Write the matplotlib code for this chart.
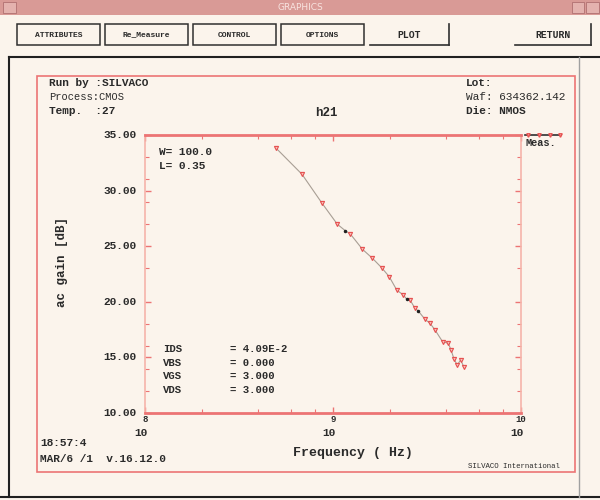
import numpy as np
import matplotlib
matplotlib.use("Agg")
import matplotlib.pyplot as plt
from matplotlib.patches import Rectangle
from matplotlib.lines import Line2D
from matplotlib.transforms import blended_transform_factory, ScaledTranslation

freq = [4.95e8, 6.84e8, 8.73e8, 1.054e9, 1.159e9, 1.239e9, 1.435e9, 1.622e9,
        1.816e9, 1.991e9, 2.183e9, 2.366e9, 2.466e9, 2.570e9, 2.729e9, 2.844e9,
        3.083e9, 3.281e9, 3.491e9, 3.828e9, 4.102e9, 4.246e9, 4.406e9, 4.581e9,
        4.775e9, 4.977e9]
gain = [33.86, 31.47, 28.88, 26.98, 26.41, 26.08, 24.72, 23.91,
        23.06, 22.26, 21.06, 20.61, 20.25, 20.16, 19.42, 19.17,
        18.43, 18.07, 17.46, 16.41, 16.27, 15.67, 14.83, 14.32,
        14.77, 14.11]
marked = [1, 1, 1, 1, 0, 1, 1, 1, 1, 1, 1, 1, 0, 1, 1, 0,
          1, 1, 1, 1, 1, 1, 1, 1, 1, 1]

y_major = [10, 15, 20, 25, 30, 35]
y_minor = [12, 14, 16, 18, 23, 27, 29, 31, 33]
x_major = [1e8, 1e9, 1e10]
x_minor = [2e8, 4e8, 6e8, 8e8, 2e9, 4e9, 6e9, 8e9]
x_exp = ["8", "9", "10"]

header_left = ["Run by :SILVACO", "Process:CMOS", "Temp.  :27"]
header_right = ["Lot:", "Waf: 634362.142", "Die: NMOS"]
bias_names = ["IDS", "VBS", "VGS", "VDS"]
bias_vals = ["= 4.09E-2", "= 0.000", "= 3.000", "= 3.000"]
buttons = ["ATTRIBUTES", "Re_Measure", "CONTROL", "OPTIONS", "PLOT", "RETURN"]

W, H = 600, 500
BG = "#fbf4ec"
RED = "#ec7474"
PINK = "#f6b4aa"
INK = "#2a2a2a"
MONO = "Liberation Mono"

fig = plt.figure(figsize=(6, 5), dpi=100)
fig.patch.set_facecolor(BG)


def fx(x):
    return x / W


def fy(y):
    return 1 - y / H


def box(x0, y0, x1, y1, **kw):
    fig.add_artist(Rectangle((fx(x0), fy(y1)), fx(x1) - fx(x0), fy(y0) - fy(y1),
                             transform=fig.transFigure, **kw))


def hline(x0, x1, y, **kw):
    fig.add_artist(Line2D([fx(x0), fx(x1)], [fy(y), fy(y)], transform=fig.transFigure, **kw))


def vline(x, y0, y1, **kw):
    fig.add_artist(Line2D([fx(x), fx(x)], [fy(y0), fy(y1)], transform=fig.transFigure, **kw))


def txt(x, y, s, **kw):
    kw.setdefault("family", MONO)
    kw.setdefault("fontweight", "bold")
    kw.setdefault("color", INK)
    fig.text(fx(x), fy(y), s, **kw)


# window title bar
box(0, 0, 600, 15, facecolor="#d99a96", edgecolor="none")
box(3, 2, 16, 13, facecolor="#e4b2ae", edgecolor="#b07070", lw=0.6)
box(572, 2, 584, 13, facecolor="#e4b2ae", edgecolor="#b07070", lw=0.6)
box(586, 2, 599, 13, facecolor="#e4b2ae", edgecolor="#b07070", lw=0.6)
txt(300, 8, "GRAPHICS", ha="center", va="center", fontsize=6.5,
    color="#f8e4e0", family="DejaVu Sans", fontweight="normal")

# button row
bx = [(17, 100), (105, 188), (193, 276), (281, 364), (370, 449), (515, 591)]
for (x0, x1), label in zip(bx, buttons):
    if label in ("PLOT", "RETURN"):
        hline(x0, x1, 45, color="#303030", lw=1.2)
        vline(x1, 24, 45, color="#303030", lw=1.2)
        fs = 7
    else:
        box(x0, 24, x1, 45, facecolor=BG, edgecolor="#303030", lw=1.1)
        fs = 5.8
    txt((x0 + x1) / 2, 35, label, ha="center", va="center", fontsize=fs)

# outer frame of the drawing area
hline(9, 600, 57, color="#202020", lw=1.5)
vline(9, 57, 497, color="#202020", lw=1.5)
hline(0, 600, 497, color="#202020", lw=1.5)
vline(579, 57, 497, color="#a0a0a0", lw=1.0)

# red page border
box(37, 76, 575, 472, facecolor="none", edgecolor=RED, lw=1.2)

for i, s in enumerate(header_left):
    txt(49, 83 + i * 14, s, va="center", fontsize=8 if i != 1 else 7.5,
        fontweight="bold" if i != 1 else "normal")
for i, s in enumerate(header_right):
    txt(466, 83 + i * 14, s, va="center", fontsize=8,
        fontweight="bold" if i != 1 else "normal")
txt(326, 113, "h21", ha="center", va="center", fontsize=9)
txt(40, 443, "18:57:4", va="center", fontsize=8)
txt(40, 459, "MAR/6 /1  v.16.12.0", va="center", fontsize=8)
txt(560, 466, "SILVACO International", ha="right", va="center", fontsize=5.3,
    fontweight="normal")

# plot area
ax = fig.add_axes([fx(145), fy(413), fx(521) - fx(145), fy(135) - fy(413)])
ax.set_facecolor(BG)
ax.set_xscale("log")
ax.set_xlim(1e8, 1e10)
ax.set_ylim(10, 35)

ax.plot(freq, gain, color="#a89e94", lw=0.8, zorder=2)
fm = [f for f, m in zip(freq, marked) if m]
gm = [g for g, m in zip(gain, marked) if m]
ax.plot(fm, gm, ls="none", marker="v", ms=3, mfc="#f6c0b8", mec="#e65050", mew=0.8, zorder=3)
fb = [f for f, m in zip(freq, marked) if not m]
gb = [g for g, m in zip(gain, marked) if not m]
ax.plot(fb, gb, ls="none", marker="o", ms=1.5, color="#202020", zorder=3)

for side in ("top", "bottom"):
    ax.spines[side].set_color(RED)
    ax.spines[side].set_linewidth(2)
for side in ("left", "right"):
    ax.spines[side].set_color(PINK)
    ax.spines[side].set_linewidth(1.2)

ax.set_xticks(x_major)
ax.set_xticks(x_minor, minor=True)
ax.set_yticks(y_major)
ax.set_yticks(y_minor, minor=True)
ax.tick_params(which="both", direction="in", top=True, right=True, colors=RED,
               labelleft=False, labelbottom=False)
ax.tick_params(which="major", length=4, width=1)
ax.tick_params(which="minor", length=3, width=0.8)

ytr = blended_transform_factory(ax.transAxes, ax.transData)
for v in y_major:
    ax.text(-0.022, v, f"{v:.2f}", transform=ytr, ha="right", va="center",
            family=MONO, fontsize=8, fontweight="bold", color=INK)

xtr = blended_transform_factory(ax.transData, ax.transAxes)
sh = ScaledTranslation(-4 / 100, 0, fig.dpi_scale_trans)
for v, e in zip(x_major, x_exp):
    ax.text(v, -0.025, e, transform=xtr, ha="center", va="center",
            family=MONO, fontsize=6.5, fontweight="bold", color=INK)
    ax.text(v, -0.072, "10", transform=xtr + sh, ha="center", va="center",
            family=MONO, fontsize=8, fontweight="bold", color=INK)

ax.text(0.038, 0.94, "W= 100.0", transform=ax.transAxes, va="center",
        family=MONO, fontsize=8, fontweight="bold", color=INK)
ax.text(0.038, 0.89, "L= 0.35", transform=ax.transAxes, va="center",
        family=MONO, fontsize=8, fontweight="bold", color=INK)

for i, (n, v) in enumerate(zip(bias_names, bias_vals)):
    y = (413 - 349 - i * 13.6) / 278
    ax.text(0.048, y, n, transform=ax.transAxes, va="center",
            family=MONO, fontsize=7.7, fontweight="bold", color=INK)
    ax.text(0.226, y, v, transform=ax.transAxes, va="center",
            family=MONO, fontsize=7.7, fontweight="bold", color=INK)

fig.text(fx(62), fy(262), "ac gain [dB]", rotation=90, ha="center", va="center",
         family=MONO, fontsize=9, fontweight="bold", color=INK)
fig.text(fx(353), fy(453), "Frequency ( Hz)", ha="center", va="center",
         family=MONO, fontsize=9.5, fontweight="bold", color=INK)

# legend entry
fig.add_artist(Line2D([fx(525), fx(561)], [fy(135), fy(135)], transform=fig.transFigure,
                      color="#303030", lw=1.2))
fig.add_artist(Line2D([fx(528), fx(539), fx(550), fx(560)], [fy(135)] * 4,
                      transform=fig.transFigure, ls="none", marker="v", ms=2.5,
                      mfc="#f6c0b8", mec="#e65050"))
txt(526, 143, "Meas.", va="center", fontsize=7.4)

fig.savefig("out.png", dpi=100, facecolor=BG)
